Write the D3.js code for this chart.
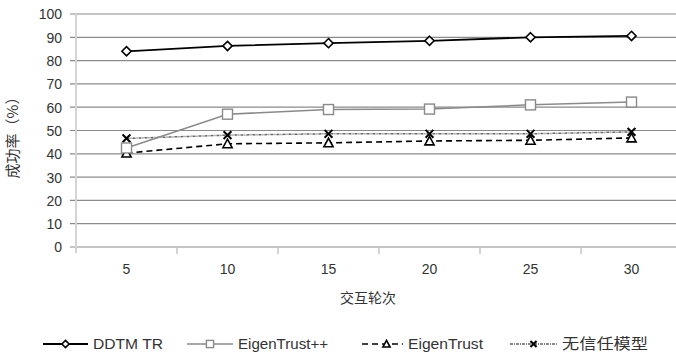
<!DOCTYPE html>
<html>
<head>
<meta charset="utf-8">
<script src="https://cdn.jsdelivr.net/npm/d3@7"></script>
<style>
  html, body { margin: 0; padding: 0; background: #fff; }
  svg { display: block; }
  text { font-family: "Liberation Sans", "Noto Sans CJK SC", sans-serif; fill: #333; }
</style>
</head>
<body>
<svg id="chart" width="676" height="356"></svg>
<script>
// Interaction rounds (x categories)
const rounds = [5, 10, 15, 20, 25, 30];
// Success rate (%) per model
const ddtmTr = [84, 86.3, 87.5, 88.5, 90, 90.6];
const eigenTrustPP = [42.5, 57, 59, 59.2, 61, 62.2];
const eigenTrust = [40.3, 44.3, 44.7, 45.5, 45.8, 46.8];
const noTrust = [46.6, 48, 48.6, 48.6, 48.6, 49.4];
const yTicks = [0, 10, 20, 30, 40, 50, 60, 70, 80, 90, 100];
const seriesNames = ["DDTM TR", "EigenTrust++", "EigenTrust", "无信任模型"];

const svg = d3.select("#chart");
const plotLeft = 76, plotRight = 682, plotTop = 14, plotBottom = 247;

const x = d3.scaleBand().domain(rounds).range([plotLeft, plotRight]).padding(0);
const y = d3.scaleLinear().domain([0, 100]).range([plotBottom, plotTop]);

// horizontal gridlines
svg.append("g").selectAll("line").data(yTicks).join("line")
  .attr("x1", 70).attr("x2", 676)
  .attr("y1", d => y(d)).attr("y2", d => y(d))
  .attr("stroke", "#8a8a8a").attr("stroke-width", 1.2);

// y tick labels
const yAxis = d3.axisLeft(y).tickValues(yTicks).tickSize(0).tickPadding(0);
const gy = svg.append("g").attr("transform", `translate(${plotLeft - 14},0)`).call(yAxis);
gy.select(".domain").remove();
gy.selectAll("text").style("font-size", "14px").attr("fill", "#333").attr("dy", "0.35em");

// vertical axis line
svg.append("line").attr("x1", plotLeft).attr("x2", plotLeft).attr("y1", plotTop).attr("y2", plotBottom + 6)
  .attr("stroke", "#d4d4d4").attr("stroke-width", 2);

// x axis: category labels, tick marks between categories
const xAxis = d3.axisBottom(x).tickSize(0).tickPadding(0);
const gx = svg.append("g").attr("transform", `translate(0,${plotBottom + 17})`).call(xAxis);
gx.select(".domain").remove();
gx.selectAll("text").style("font-size", "14px").attr("fill", "#333").attr("dy", "0.71em");
svg.append("g").selectAll("line").data(rounds.slice(1)).join("line")
  .attr("x1", d => x(d)).attr("x2", d => x(d))
  .attr("y1", plotBottom + 1).attr("y2", plotBottom + 7)
  .attr("stroke", "#d4d4d4").attr("stroke-width", 2);

// axis titles
svg.append("text").attr("x", 368).attr("y", 303).attr("text-anchor", "middle")
  .style("font-size", "14px").style("font-family", "'Noto Sans CJK SC', sans-serif").text("交互轮次");
svg.append("text").attr("transform", "translate(13,134) rotate(-90)").attr("text-anchor", "middle")
  .attr("dy", "0.35em")
  .style("font-size", "15px").style("font-family", "'Noto Sans CJK SC', sans-serif").text("成功率（%）");

const styles = [
  { color: "#000", width: 1.8, dash: null, marker: "diamond" },
  { color: "#8a8a8a", width: 1.5, dash: null, marker: "square" },
  { color: "#000", width: 1.6, dash: "6,4", marker: "triangle" },
  { color: "#666", width: 1.5, dash: "3,1,1,1", marker: "x" }
];
const data = [ddtmTr, eigenTrustPP, eigenTrust, noTrust];

const cx = d => x(d) + x.bandwidth() / 2;
const line = d3.line().x((d, i) => cx(rounds[i])).y(d => y(d));

function drawMarker(g, type, px, py, r) {
  if (type === "diamond") {
    g.append("path").attr("d", `M${px},${py - r}L${px + r},${py}L${px},${py + r}L${px - r},${py}Z`)
      .attr("fill", "#fff").attr("stroke", "#000").attr("stroke-width", 1.6);
  } else if (type === "square") {
    g.append("rect").attr("x", px - r).attr("y", py - r).attr("width", 2 * r).attr("height", 2 * r)
      .attr("fill", "#fff").attr("stroke", "#8a8a8a").attr("stroke-width", 1.4);
  } else if (type === "triangle") {
    g.append("path").attr("d", `M${px},${py - r}L${px + r},${py + r * 0.85}L${px - r},${py + r * 0.85}Z`)
      .attr("fill", "#fff").attr("stroke", "#000").attr("stroke-width", 1.6);
  } else {
    const q = r * 0.85;
    g.append("path").attr("d", `M${px - q},${py - q}L${px + q},${py + q}M${px + q},${py - q}L${px - q},${py + q}`)
      .attr("stroke", "#000").attr("stroke-width", 2);
  }
}

// series, drawn bottom-first so the top series stays on top
[3, 2, 1, 0].forEach(k => {
  const s = styles[k];
  const g = svg.append("g");
  g.append("path").datum(data[k]).attr("d", line)
    .attr("fill", "none").attr("stroke", s.color).attr("stroke-width", s.width)
    .attr("stroke-dasharray", s.dash);
  data[k].forEach((v, i) => drawMarker(g, s.marker, cx(rounds[i]), y(v), k === 1 ? 5 : 4.6));
});

// legend: symbol line, marker, condensed label
const legendX = [43, 187, 362, 510];
const legendW = [45, 46, 41, 47];
const labelW = [70, 90, 75, 86];
seriesNames.forEach((name, k) => {
  const s = styles[k];
  const g = svg.append("g");
  const x0 = legendX[k], ly = 344;
  g.append("line").attr("x1", x0).attr("x2", x0 + legendW[k]).attr("y1", ly).attr("y2", ly)
    .attr("stroke", s.color).attr("stroke-width", s.width).attr("stroke-dasharray", s.dash);
  drawMarker(g, s.marker, x0 + legendW[k] / 2 + (k === 2 ? 4 : 0), ly, 3.6);
  g.append("text").attr("x", x0 + legendW[k] + 5).attr("y", ly).attr("dy", "0.35em")
    .attr("textLength", labelW[k]).attr("lengthAdjust", "spacingAndGlyphs")
    .style("font-size", k === 3 ? "15px" : "14px")
    .style("font-family", k === 3 ? "'Noto Sans CJK SC', sans-serif" : "'Liberation Sans', sans-serif")
    .text(name);
});
</script>
</body>
</html>
